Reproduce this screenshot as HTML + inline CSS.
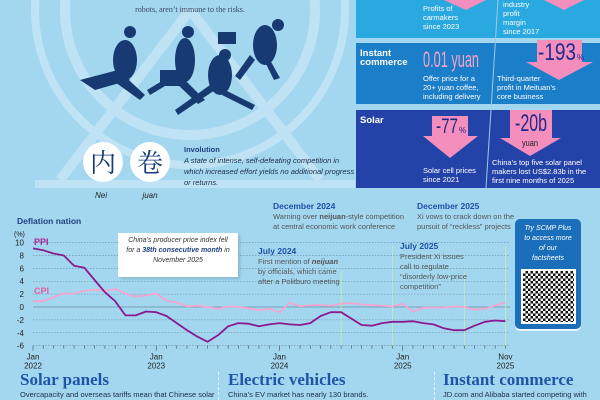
<!DOCTYPE html>
<html><head><meta charset="utf-8"><style>
*{margin:0;padding:0;box-sizing:border-box}
body{width:600px;height:400px;overflow:hidden;background:#a3d7f0;font-family:"Liberation Sans Narrow","Liberation Sans",sans-serif;position:relative}
.a{position:absolute}
.w{color:#fff;font-size:7.5px;line-height:9px}
.pk{color:#f7a3c9}
.h{font-family:"Liberation Serif",serif;font-weight:bold;color:#1f55a8;font-size:17px}
.b{font-size:7.5px;color:#1c2d4a;white-space:nowrap}
.ann{font-size:7.5px;color:#555;line-height:10px;white-space:nowrap}
.annh{font-size:8.5px;font-weight:bold;color:#1f4fa8;white-space:nowrap}
</style></head><body>
<svg class="a" style="left:0;top:0" width="360" height="200">
<g fill="none" stroke="#c4e6f7" stroke-width="10" opacity="0.85">
<circle cx="190" cy="10" r="125"/>
<circle cx="190" cy="10" r="155" stroke-width="8"/>
<line x1="190" y1="10" x2="60" y2="180"/>
<line x1="190" y1="10" x2="320" y2="180"/>
<line x1="35" y1="184" x2="355" y2="184" stroke-width="8"/>
</g>
<g fill="#173a72">
<ellipse cx="125" cy="60" rx="12" ry="20"/><circle cx="130" cy="32" r="6"/>
<path d="M80 80 L118 70 L130 80 L95 90Z"/><path d="M118 70 L145 95 L140 100 L112 80Z"/>
<ellipse cx="185" cy="60" rx="10" ry="22"/><circle cx="188" cy="32" r="6"/>
<rect x="160" y="70" width="20" height="16"/><path d="M180 75 L205 100 L198 104 L175 82Z"/><path d="M175 80 L150 95 L147 90 L172 75Z"/>
<ellipse cx="220" cy="75" rx="12" ry="20"/><circle cx="225" cy="55" r="6"/>
<path d="M215 90 L178 115 L175 110 L210 85Z"/><path d="M225 90 L255 105 L252 110 L222 95Z"/>
<ellipse cx="265" cy="45" rx="12" ry="20"/><circle cx="278" cy="25" r="6"/>
<rect x="218" y="32" width="18" height="12"/><path d="M255 60 L240 80 L235 76 L250 55Z"/><path d="M270 60 L280 78 L274 80 L265 62Z"/>
</g>
<text x="190" y="12" text-anchor="middle" font-family="Liberation Serif" font-size="8" fill="#3a4a66">robots, aren’t immune to the risks.</text>
<circle cx="103" cy="162" r="20" fill="#fff"/><circle cx="150" cy="162" r="20" fill="#fff"/>
<text x="103" y="172" text-anchor="middle" font-family="Noto Serif CJK SC,serif" font-size="26" fill="#173a72">内</text>
<text x="150" y="172" text-anchor="middle" font-family="Noto Serif CJK SC,serif" font-size="26" fill="#173a72">卷</text>
<text x="101" y="198" text-anchor="middle" font-family="Liberation Sans" font-style="italic" font-size="8" fill="#222">Nei</text>
<text x="150" y="198" text-anchor="middle" font-family="Liberation Sans" font-style="italic" font-size="8" fill="#222">juan</text>
</svg>
<div class="a" style="left:184px;top:144px;font-size:7.5px;line-height:11px;color:#1c2d4a;width:175px"><b style="color:#1f3f80">Involution</b><br><i>A state of intense, self-defeating competition in which increased effort yields no additional progress or returns.</i></div>

<div class="a" style="left:356px;top:0;width:244px;height:38px;background:#2aa8e0"></div>
<div class="a" style="left:356px;top:43px;width:244px;height:61px;background:#1b7ec8"></div>
<div class="a" style="left:356px;top:110px;width:244px;height:78px;background:#2443a8"></div>
<svg class="a" style="left:356px;top:0" width="244" height="190">
<line x1="142" y1="0" x2="130" y2="188" stroke="#9cc8ee" stroke-width="1"/>
<g fill="#f48fbd">
<path d="M88 0 L130 0 L110 10Z"/><path d="M188 0 L228 0 L208 10Z"/>
<rect x="181" y="40" width="45" height="22"/><path d="M170 62 L237 62 L203 80Z"/>
<rect x="76" y="116" width="36" height="20"/><path d="M67 136 L122 136 L94 158Z"/>
<rect x="154" y="110" width="42" height="28"/><path d="M144 138 L205 138 L174 156Z"/>
</g>
<text x="182" y="60" font-family="Liberation Sans Narrow,Liberation Sans" font-size="24" fill="#1f2a8a" textLength="38" lengthAdjust="spacingAndGlyphs">-193</text>
<text x="221" y="60" font-family="Liberation Sans" font-size="8" fill="#1f2a8a">%</text>
<text x="80" y="133" font-family="Liberation Sans Narrow,Liberation Sans" font-size="21" fill="#1f2a8a" textLength="22" lengthAdjust="spacingAndGlyphs">-77</text>
<text x="103" y="133" font-family="Liberation Sans" font-size="8" fill="#1f2a8a">%</text>
<text x="159" y="131" font-family="Liberation Sans Narrow,Liberation Sans" font-size="24" fill="#1f2a8a" textLength="32" lengthAdjust="spacingAndGlyphs">-20b</text>
<text x="166" y="146" font-family="Liberation Sans Narrow,Liberation Sans" font-size="9" fill="#222" textLength="16" lengthAdjust="spacingAndGlyphs">yuan</text>
</svg>
<div class="a w" style="left:423px;top:4px">Profits of<br>carmakers<br>since 2023</div>
<div class="a w" style="left:503px;top:0px">industry<br>profit<br>margin<br>since 2017</div>
<div class="a" style="left:360px;top:49px;color:#fff;font-weight:bold;font-size:9.5px;line-height:9px;font-family:'Liberation Sans',sans-serif">Instant<br>commerce</div>
<svg class="a" style="left:423px;top:47px" width="80" height="25"><text x="0" y="20" font-family="Liberation Sans Narrow,Liberation Sans" font-size="22" fill="#f7a3c9" textLength="56" lengthAdjust="spacingAndGlyphs">0.01 yuan</text></svg>
<div class="a w" style="left:423px;top:74px">Offer price for a<br>20+ yuan coffee,<br>including delivery</div>
<div class="a w" style="left:497px;top:74px">Third-quarter<br>profit in Meituan’s<br>core business</div>
<div class="a" style="left:360px;top:115px;color:#fff;font-weight:bold;font-size:9.5px;font-family:'Liberation Sans',sans-serif">Solar</div>
<div class="a w" style="left:423px;top:166px">Solar cell prices<br>since 2021</div>
<div class="a w" style="left:492px;top:158px">China’s top five solar panel<br>makers lost US$2.83b in the<br>first nine months of 2025</div>

<svg id="ch" class="a" style="left:0;top:195px" width="600" height="175"></svg>
<div class="a" style="left:17px;top:216px;font-size:8.5px;font-weight:bold;color:#1f3f80">Deflation nation</div>
<div class="a" style="left:118px;top:233px;width:120px;height:44px;background:#fff;box-shadow:2px 2px 3px rgba(0,0,0,.15);font-size:7px;line-height:10px;text-align:center;font-style:italic;color:#333;padding-top:3px">China’s producer price index fell<br>for a <b style="color:#1f3f80">38th consecutive month</b> in<br>November 2025</div>
<div class="a annh" style="left:258px;top:246px">July 2024</div>
<div class="a ann" style="left:258px;top:257px">First mention of <b><i>neijuan</i></b><br>by officials, which came<br>after a Politburo meeting</div>
<div class="a annh" style="left:273px;top:201px">December 2024</div>
<div class="a ann" style="left:273px;top:212px">Warning over <b>neijuan</b>-style competition<br>at central economic work conference</div>
<div class="a annh" style="left:400px;top:241px">July 2025</div>
<div class="a ann" style="left:400px;top:252px">President Xi issues<br>call to regulate<br>“disorderly low-price<br>competition”</div>
<div class="a annh" style="left:417px;top:201px">December 2025</div>
<div class="a ann" style="left:417px;top:212px">Xi vows to crack down on the<br>pursuit of “reckless” projects</div>
<div class="a" style="left:515px;top:219px;width:66px;height:110px;background:#1b6fba;border-radius:5px;box-shadow:0 2px 0 #e8f4fb;color:#fff;font-style:italic;font-size:7px;line-height:10px;text-align:center;padding-top:5px">Try SCMP Plus<br>to access more<br>of our<br>factsheets
<div style="margin:5px auto 0;width:55px;height:55px;background:#fff;padding:2px"><div style="width:100%;height:100%;background:repeating-conic-gradient(#111 0 25%,#fff 0 50%) 0 0/5px 5px"></div></div></div>

<div class="a h" style="left:20px;top:370px">Solar panels</div>
<div class="a h" style="left:228px;top:370px">Electric vehicles</div>
<div class="a h" style="left:443px;top:370px">Instant commerce</div>
<div class="a b" style="left:20px;top:390px">Overcapacity and overseas tariffs mean that Chinese solar</div>
<div class="a b" style="left:228px;top:390px">China’s EV market has nearly 130 brands.</div>
<div class="a b" style="left:443px;top:390px">JD.com and Alibaba started competing with</div>
<div class="a" style="left:218px;top:372px;height:28px;border-left:1px dashed #e8f4fb"></div>
<div class="a" style="left:434px;top:372px;height:28px;border-left:1px dashed #e8f4fb"></div>
<script>
var ppi=[9.1,8.8,8.3,8.0,6.4,6.1,4.2,2.3,0.9,-1.3,-1.3,-0.7,-0.8,-1.4,-2.5,-3.6,-4.6,-5.4,-4.4,-3.0,-2.5,-2.6,-3.0,-2.7,-2.5,-2.7,-2.8,-2.5,-1.4,-0.8,-0.8,-1.8,-2.8,-2.9,-2.5,-2.3,-2.3,-2.2,-2.5,-2.7,-3.3,-3.6,-3.6,-2.9,-2.3,-2.1,-2.2];
var cpi=[0.9,0.9,1.5,2.1,2.1,2.5,2.7,2.5,2.8,2.1,1.6,1.8,2.1,1.0,0.7,0.1,0.2,0.0,-0.3,0.1,0.0,-0.2,-0.5,-0.3,-0.8,0.7,0.1,0.3,0.3,0.2,0.5,0.6,0.4,0.3,0.2,0.1,0.5,-0.7,-0.1,-0.1,-0.1,0.1,0.0,-0.4,-0.3,0.2,0.7];
var T=195;function X(i){return 33+i*10.27}function Y(v){return 307-v*6.44-T}
var s='';
for(var v=-6;v<=10;v+=2){var y=Y(v);
 s+='<line x1="33" x2="510" y1="'+y+'" y2="'+y+'" stroke="#6a8aa0" stroke-width="'+(v==0?0.8:0.6)+'" stroke-dasharray="'+(v==0?'':'1.5,1.5')+'"/>';
 s+='<text x="24" y="'+(y+3)+'" text-anchor="end" font-size="8" fill="#222" font-family="Liberation Sans Narrow,Liberation Sans">'+v+'</text>';}
s+='<text x="14" y="'+(Y(10)-6)+'" font-size="7" fill="#222">(%)</text>';
for(var i=0;i<47;i++){var x=X(i);s+='<line x1="'+x+'" x2="'+x+'" y1="'+Y(-6)+'" y2="'+(Y(-6)+(i%12==0?5:3))+'" stroke="#444" stroke-width="0.6"/>';}
[30,35,42,46].forEach(function(i){var x=X(i);s+='<line x1="'+x+'" x2="'+x+'" y1="'+(i==35||i==46?Y(9.5):Y(5.5))+'" y2="'+Y(-6)+'" stroke="#c8ecb0" stroke-width="0.8"/>';});
var L=[[0,'Jan','2022'],[12,'Jan','2023'],[24,'Jan','2024'],[36,'Jan','2025'],[46,'Nov','2025']];
L.forEach(function(l){var x=X(l[0]);s+='<text x="'+x+'" y="'+(Y(-6)+14)+'" text-anchor="middle" font-size="8" fill="#222">'+l[1]+'</text><text x="'+x+'" y="'+(Y(-6)+23)+'" text-anchor="middle" font-size="8" fill="#222">'+l[2]+'</text>';});
function pl(d,c,w){return '<polyline fill="none" stroke="'+c+'" stroke-width="'+w+'" stroke-linejoin="round" points="'+d.map(function(v,i){return X(i).toFixed(1)+','+Y(v).toFixed(1)}).join(' ')+'"/>';}
s+=pl(cpi,'#f4a6d0',1.8)+pl(ppi,'#8a1a8f',1.8);
s+='<text x="34" y="'+(Y(9.6))+'" font-size="9" font-weight="bold" fill="#b0249a" font-family="Liberation Sans">PPI</text>';
s+='<text x="34" y="'+(Y(2))+'" font-size="9" font-weight="bold" fill="#e0609e" font-family="Liberation Sans">CPI</text>';
document.getElementById('ch').innerHTML=s;
</script>
</body></html>
